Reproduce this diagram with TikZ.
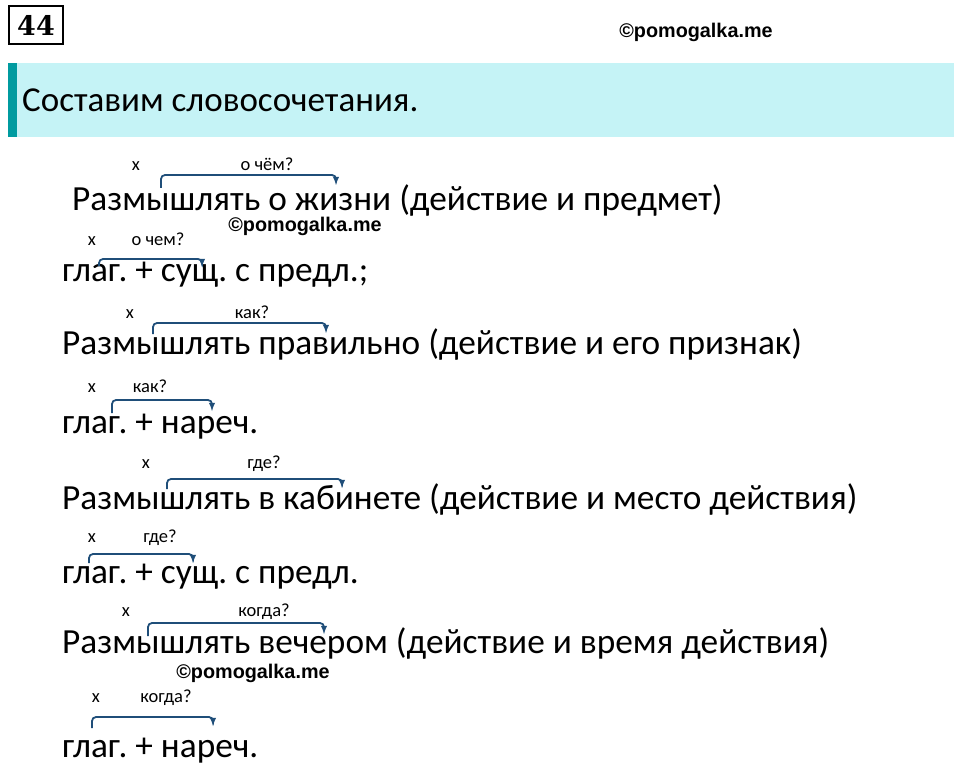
\documentclass[tikz,border=0pt]{standalone}
\usepackage{fontspec}
\setmainfont{Carlito}
\newfontfamily\stampfont{Liberation Sans}
\newfontfamily\numfont{DejaVu Serif}
\usetikzlibrary{arrows,positioning}
\definecolor{linkblue}{RGB}{31,78,121}
\definecolor{bannercyan}{RGB}{197,243,246}
\definecolor{barteal}{RGB}{0,155,160}
\frenchspacing

\begin{document}
\begin{tikzpicture}[x=1pt,y=-1pt,inner sep=0pt,
  phrase/.style={anchor=base west,font=\fontsize{35.3}{40}\selectfont},
  hint/.style={anchor=base,font=\fontsize{18.5}{22}\selectfont},
  stamp/.style={font=\stampfont\bfseries\fontsize{19.8}{22}\selectfont},
  link/.style={->,>=latex,draw=linkblue,line width=1.8pt,rounded corners=4pt}]
  \useasboundingbox (0,0) rectangle (960,767);
  % header
  \node[draw,line width=2pt,minimum width=54pt,minimum height=38pt,
    font=\numfont\bfseries\fontsize{27}{30}\selectfont] (num) at (36,25) {44};
  \node[stamp] (site) at (696,32) {©pomogalka.me};
  \fill[bannercyan] (8,63) rectangle (954,137);
  \fill[barteal] (8,63) rectangle (17,137);
  \node[anchor=base west,font=\fontsize{35}{40}\selectfont] (title) at (22,112) {Составим словосочетания.};
  % phrases
  \node[phrase] (p1) at (72,211) {Размышлять о жизни (действие и предмет)};
  \node[phrase] (p2) at (62,281) {глаг. + сущ. с предл.;};
  \node[phrase] (p3) at (62,354) {Размышлять правильно (действие и его признак)};
  \node[phrase] (p4) at (62,433) {глаг. + нареч.};
  \node[phrase] (p5) at (62,509) {Размышлять в кабинете (действие и место действия)};
  \node[phrase] (p6) at (62,583) {глаг. + сущ. с предл.};
  \node[phrase] (p7) at (62,653) {Размышлять вечером (действие и время действия)};
  \node[phrase] (p8) at (62,757) {глаг. + нареч.};
  % watermarks
  \node[stamp] (site2) at (305,226) {©pomogalka.me};
  \node[stamp] (site3) at (253,673) {©pomogalka.me};
  % questions
  \node[hint] (x1) at (136,171) {х};
  \node[hint] (q1) at (267,171) {о чём?};
  \node[hint] (x2) at (92,245) {х};
  \node[hint] (q2) at (158,245) {о чем?};
  \node[hint] (x3) at (130,318) {х};
  \node[hint] (q3) at (252,318) {как?};
  \node[hint] (x4) at (92,392) {х};
  \node[hint] (q4) at (150,392) {как?};
  \node[hint] (x5) at (146,468) {х};
  \node[hint] (q5) at (264,468) {где?};
  \node[hint] (x6) at (92,542) {х};
  \node[hint] (q6) at (160,542) {где?};
  \node[hint] (x7) at (126,616) {х};
  \node[hint] (q7) at (264,616) {когда?};
  \node[hint] (x8) at (96,702) {х};
  \node[hint] (q8) at (166,702) {когда?};
  % arrows
  \coordinate (h1) at (161,188); \coordinate (t1) at (336,185);
  \coordinate (h2) at (99,266);  \coordinate (t2) at (202,267);
  \coordinate (h3) at (153,334); \coordinate (t3) at (326,333);
  \coordinate (h4) at (112,413); \coordinate (t4) at (212,411);
  \coordinate (h5) at (167,489); \coordinate (t5) at (342,488);
  \coordinate (h6) at (89,563);  \coordinate (t6) at (193,563);
  \coordinate (h7) at (148,636); \coordinate (t7) at (324,634);
  \coordinate (h8) at (92,728);  \coordinate (t8) at (213,726);
  \draw[link] (h1) -- ++(0,-13) -| (t1);
  \draw[link] (h2) -- ++(0,-7) -| (t2);
  \draw[link] (h3) -- ++(0,-11) -| (t3);
  \draw[link] (h4) -- ++(0,-13) -| (t4);
  \draw[link] (h5) -- ++(0,-10) -| (t5);
  \draw[link] (h6) -- ++(0,-9) -| (t6);
  \draw[link] (h7) -- ++(0,-13) -| (t7);
  \draw[link] (h8) -- ++(0,-11) -| (t8);
\end{tikzpicture}
\end{document}
